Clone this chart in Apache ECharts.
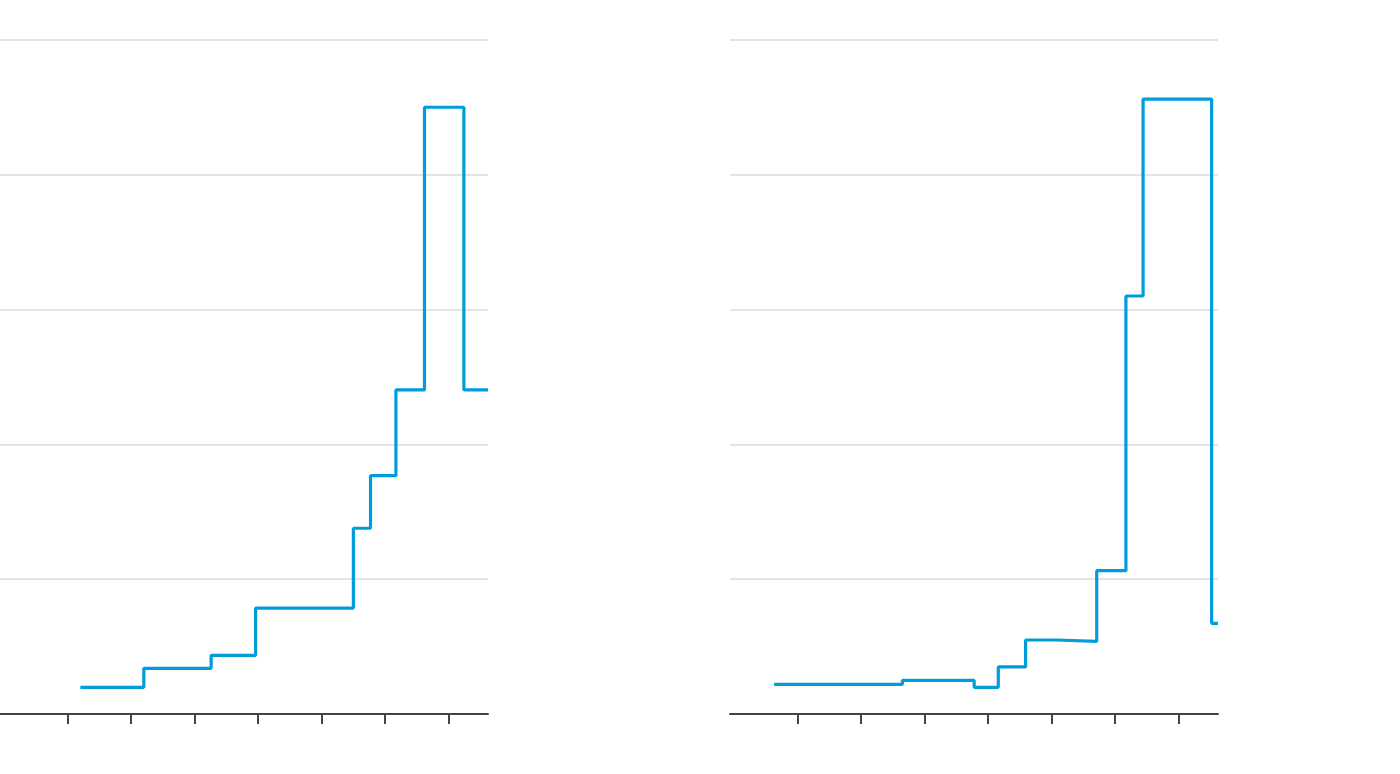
<!DOCTYPE html>
<html>
<head>
<meta charset="utf-8">
<script src="https://cdn.jsdelivr.net/npm/echarts@6/dist/echarts.min.js"></script>
<style>
html,body{margin:0;padding:0;background:#fff;}
#chart{width:1400px;height:774px;}
</style>
</head>
<body>
<div id="chart"></div>
<script>
// Left panel step series
const leftX = [1952.0, 1962.0, 1972.6, 1979.6, 1995.0, 1997.7, 2001.7, 2006.2, 2012.4, 2016.2];
const leftY = [1.98, 3.39, 4.35, 7.86, 13.78, 17.68, 24.04, 45.01, 24.04, 24.04];
// Right panel step series
const rightX = [1946.3, 1966.5, 1977.8, 1981.6, 1985.9, 1990.8, 1997.1, 2001.7, 2004.4, 2015.2, 2016.2];
const rightY = [2.20, 2.50, 1.98, 3.49, 5.49, 5.39, 10.63, 31.01, 45.62, 6.73, 6.73];
// Axis ticks
const xTicks = [1950, 1960, 1970, 1980, 1990, 2000, 2010];
const xMin = 1939.35, xMax = 2016.2;
const yMin = 0, yMax = 50, yStep = 10;

const pair = (xs, ys) => xs.map((x, i) => [x, ys[i]]);

const xAxisBase = (gi) => ({
  type: 'value', gridIndex: gi, min: xMin, max: xMax,
  axisLine: {show: true, lineStyle: {color: '#444', width: 2}},
  axisTick: {show: true, customValues: xTicks, length: 10, lineStyle: {color: '#444', width: 2}},
  axisLabel: {show: false},
  splitLine: {show: false}
});
const yAxisBase = (gi) => ({
  type: 'value', gridIndex: gi, min: yMin, max: yMax, interval: yStep,
  axisLine: {show: false}, axisTick: {show: false}, axisLabel: {show: false},
  splitLine: {show: true, lineStyle: {color: '#e4e4e4', width: 2}}
});

const chart = echarts.init(document.getElementById('chart'));
chart.setOption({
  animation: false,
  grid: [
    {left: 0, top: 40, width: 488, height: 674},
    {left: 730, top: 40, width: 488, height: 674}
  ],
  xAxis: [xAxisBase(0), xAxisBase(1)],
  yAxis: [yAxisBase(0), yAxisBase(1)],
  series: [
    {type: 'line', xAxisIndex: 0, yAxisIndex: 0, step: 'end', symbol: 'none',
     data: pair(leftX, leftY), lineStyle: {color: '#009ddc', width: 3.2}},
    {type: 'line', xAxisIndex: 1, yAxisIndex: 1, step: 'end', symbol: 'none',
     data: pair(rightX, rightY), lineStyle: {color: '#009ddc', width: 3.2}}
  ]
});
</script>
</body>
</html>
